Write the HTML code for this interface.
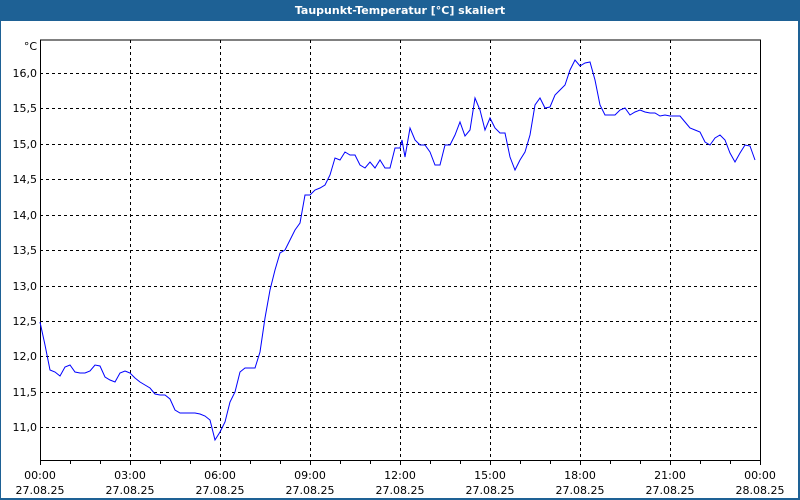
<!DOCTYPE html>
<html><head><meta charset="utf-8"><style>
body{margin:0;background:#fff}
svg{display:block}
text{font-family:"DejaVu Sans","Liberation Sans",sans-serif;font-size:11px;fill:#000}
</style></head><body>
<svg width="800" height="500" xmlns="http://www.w3.org/2000/svg">
<rect x="0" y="0" width="800" height="500" fill="#1e6195"/>
<rect x="1" y="21" width="797" height="477" fill="#fff"/>
<text x="400" y="14" text-anchor="middle" style="fill:#fff;font-weight:bold;font-size:11px">Taupunkt-Temperatur [°C] skaliert</text>
<g stroke="#000" stroke-dasharray="3,3" stroke-width="1">
<path d="M40 73.5H760M40 108.5H760M40 144.5H760M40 179.5H760M40 215.5H760M40 250.5H760M40 286.5H760M40 321.5H760M40 356.5H760M40 392.5H760M40 427.5H760"/>
<path d="M130.5 40V460M220.5 40V460M310.5 40V460M400.5 40V460M490.5 40V460M580.5 40V460M670.5 40V460"/>
</g>
<path d="M40.5 40V460.5H760.5V40H40" fill="none" stroke="#000"/>
<g stroke="#000"><path d="M40.5 460v5M70.5 460v4M100.5 460v4M130.5 460v5M160.5 460v4M190.5 460v4M220.5 460v5M250.5 460v4M280.5 460v4M310.5 460v5M340.5 460v4M370.5 460v4M400.5 460v5M430.5 460v4M460.5 460v4M490.5 460v5M520.5 460v4M550.5 460v4M580.5 460v5M610.5 460v4M640.5 460v4M670.5 460v5M700.5 460v4M730.5 460v4M760.5 460v5"/></g>
<g text-anchor="end">
<text x="37" y="50">°C</text>
<text x="37" y="77">16,0</text><text x="37" y="112">15,5</text><text x="37" y="148">15,0</text><text x="37" y="183">14,5</text><text x="37" y="219">14,0</text><text x="37" y="254">13,5</text><text x="37" y="290">13,0</text><text x="37" y="325">12,5</text><text x="37" y="360">12,0</text><text x="37" y="396">11,5</text><text x="37" y="431">11,0</text>
</g>
<g text-anchor="middle">
<text x="40" y="479">00:00</text><text x="40" y="494">27.08.25</text>
<text x="130" y="479">03:00</text><text x="130" y="494">27.08.25</text>
<text x="220" y="479">06:00</text><text x="220" y="494">27.08.25</text>
<text x="310" y="479">09:00</text><text x="310" y="494">27.08.25</text>
<text x="400" y="479">12:00</text><text x="400" y="494">27.08.25</text>
<text x="490" y="479">15:00</text><text x="490" y="494">27.08.25</text>
<text x="580" y="479">18:00</text><text x="580" y="494">27.08.25</text>
<text x="670" y="479">21:00</text><text x="670" y="494">27.08.25</text>
<text x="760" y="479">00:00</text><text x="760" y="494">28.08.25</text>
</g>
<polyline fill="none" stroke="#0000ff" stroke-width="1" points="40,322 45,345 50,370 55,372 60,376 65,367 70,365 75,372 80,373 85,373 90,371 95,365 100,366 105,377 110,380 115,382 120,373 125,371 130,373 135,378 140,382 145,385 150,388 155,394 160,395 165,395 170,399 175,410 180,413 185,413 190,413 195,413 200,414 205,416 210,420 215,440 220,432 225,422 230,402 235,392 240,372 245,368 250,368 255,368 260,352 265,318 270,290 275,270 280,253 285,250 290,240 295,230 300,223 305,195 310,195 315,190 320,188 325,185 330,175 335,158 340,160 345,152 350,155 355,155 360,165 365,168 370,162 375,168 380,160 385,168 390,168 395,148 400,148 402,140 405,157 410,128 415,140 420,145 425,145 430,152 435,165 440,165 445,145 450,145 455,135 460,122 465,136 470,130 475,98 480,110 485,130 490,118 495,128 500,133 505,133 510,157 515,170 520,160 525,152 530,135 535,105 540,98 545,108 550,107 555,95 560,90 565,85 570,70 575,60 580,66 585,63 590,62 595,80 600,105 605,115 610,115 615,115 620,110 625,108 630,115 635,112 640,110 645,112 650,113 655,113 660,116 665,115 670,116 675,116 680,116 685,122 690,128 695,130 700,132 705,142 710,145 715,138 720,135 725,140 730,153 735,162 740,153 745,145 750,146 755,160"/>
</svg>
</body></html>
